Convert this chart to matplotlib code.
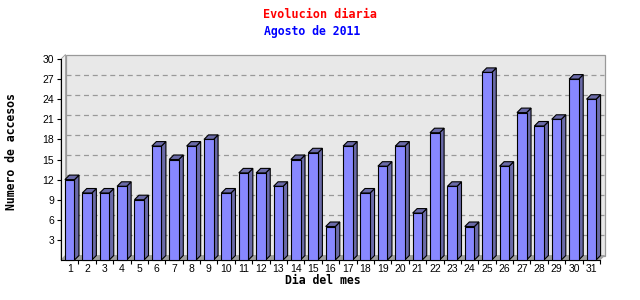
import matplotlib
matplotlib.use("Agg")
import matplotlib.pyplot as plt
from matplotlib.patches import Polygon, Rectangle
import matplotlib.transforms as mtransforms

days = list(range(1, 32))
accesos = [12, 10, 10, 11, 9, 17, 15, 17, 18, 10, 13, 13, 11, 15, 16, 5,
           17, 10, 14, 17, 7, 19, 11, 5, 28, 14, 22, 20, 21, 27, 24]
yticks = [3, 6, 9, 12, 15, 18, 21, 24, 27, 30]
title = "Evolucion diaria"
subtitle = "Agosto de 2011"
xlabel = "Dia del mes"
ylabel = "Numero de accesos"

W, H, DPI = 640, 300, 100
fig = plt.figure(figsize=(W / DPI, H / DPI), dpi=DPI, facecolor="white")
L, R, B, T = 61, 600, 260, 59
ax = fig.add_axes([L / W, 1 - B / H, (R - L) / W, (B - T) / H])
ax.set_xlim(0.5, 31.5)
ax.set_ylim(0, 30)
ax.set_facecolor("none")
for s in ["top", "right"]:
    ax.spines[s].set_visible(False)
for s in ["left", "bottom"]:
    ax.spines[s].set_color("black")
    ax.spines[s].set_linewidth(0.8)

depth = 4.5  # pixels
px_per_x = (R - L) / 31.0
px_per_y = (B - T) / 30.0
dxd = depth / px_per_x
dyd = depth / px_per_y

off = mtransforms.ScaledTranslation(depth / DPI, depth / DPI, fig.dpi_scale_trans)

# back wall
wall = Rectangle((0, 0), 1, 1, transform=ax.transAxes + off, facecolor="#e8e8e8",
                 edgecolor="#999999", linewidth=0.9, zorder=0, clip_on=False)
ax.add_patch(wall)
# left side wall and floor
side = Polygon([(0.5, 0), (0.5 + 0, 30), (0.5 + dxd, 30 + dyd), (0.5 + dxd, dyd)],
               closed=True, facecolor="#f0f0f0", edgecolor="#999999", linewidth=0.6,
               zorder=0.5, clip_on=False)
ax.add_patch(side)
floor = Polygon([(0.5, 0), (31.5, 0), (31.5 + dxd, dyd), (0.5 + dxd, dyd)],
                closed=True, facecolor="#a0a0a0", edgecolor="#a0a0a0", linewidth=0.6,
                zorder=0.6, clip_on=False)
ax.add_patch(floor)
for yv in yticks[:-1]:
    ax.plot([0.5, 31.5], [yv, yv], transform=ax.transData + off, color="#999999",
            linestyle=(0, (4, 3)), linewidth=0.9, zorder=0.7, clip_on=False)

w = 0.55
front_c = "#8888ff"
dark_c = "#6a6aa8"
for x, v in zip(days, accesos):
    x0, x1 = x - w / 2, x + w / 2
    sidep = Polygon([(x1, 0), (x1, v), (x1 + dxd, v + dyd), (x1 + dxd, dyd)], closed=True,
                    facecolor=dark_c, edgecolor="black", linewidth=0.8, zorder=2, clip_on=False)
    topp = Polygon([(x0, v), (x1, v), (x1 + dxd, v + dyd), (x0 + dxd, v + dyd)], closed=True,
                   facecolor=dark_c, edgecolor="black", linewidth=0.8, zorder=2, clip_on=False)
    ax.add_patch(sidep)
    ax.add_patch(topp)
ax.bar(days, accesos, width=w, color=front_c, edgecolor="black", linewidth=0.8, zorder=3,
       clip_on=False)

ax.set_yticks(yticks)
ax.set_yticklabels([str(t) for t in yticks], fontfamily="Liberation Sans", fontsize=7.5)
ax.tick_params(axis="y", length=3, width=0.8, pad=2, direction="out")
ax.set_xticks(days)
ax.set_xticklabels([str(d) for d in days], fontfamily="Liberation Sans", fontsize=7.5)
ax.tick_params(axis="x", which="major", length=0, pad=3)
ax.set_xticks([d + 0.5 for d in days], minor=True)
ax.tick_params(axis="x", which="minor", length=3, width=0.8, direction="out", color="black")

fig.text(320 / W, 1 - 14 / H, title, color="red", fontfamily="DejaVu Sans Mono",
         fontweight="bold", fontsize=8.5, ha="center", va="center")
fig.text(312 / W, 1 - 32 / H, subtitle, color="blue", fontfamily="DejaVu Sans Mono",
         fontweight="bold", fontsize=8.3, ha="center", va="center")
fig.text(323 / W, 1 - 281 / H, xlabel, color="black", fontfamily="DejaVu Sans Mono",
         fontweight="bold", fontsize=8.3, ha="center", va="center")
fig.text(12 / W, 1 - 152 / H, ylabel, color="black", fontfamily="DejaVu Sans Mono",
         fontweight="bold", fontsize=8.3, ha="center", va="center", rotation=90)

fig.savefig("out.png", dpi=DPI, facecolor="white")
